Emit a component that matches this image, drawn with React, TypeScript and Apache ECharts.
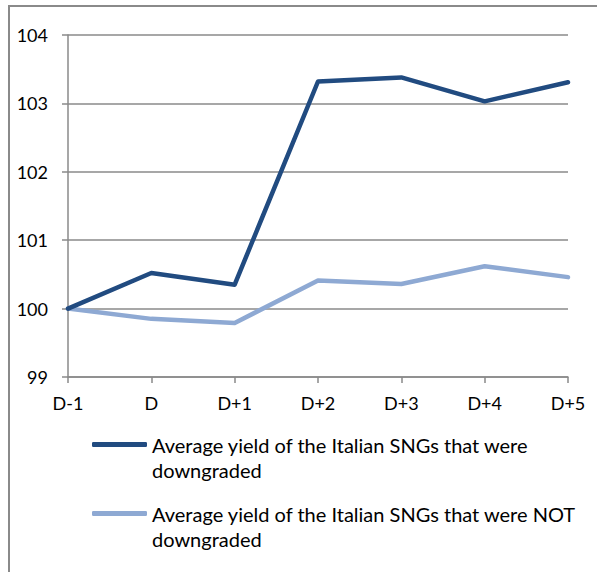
import React, { useEffect, useRef } from "react";
import * as echarts from "echarts";

// Event-day labels and average yields (index, D-1 = 100)
const days = ["D-1", "D", "D+1", "D+2", "D+3", "D+4", "D+5"];
const downgraded = [100, 100.52, 100.35, 103.32, 103.38, 103.03, 103.31];
const notDowngraded = [100, 99.85, 99.79, 100.41, 100.36, 100.62, 100.46];
const seriesNames = [
  "Average yield of the Italian SNGs that were downgraded",
  "Average yield of the Italian SNGs that were NOT downgraded",
];
const yMin = 99;
const yMax = 104;

const DARK = "#214B80";
const LIGHT = "#8EA9D3";
const GRID = "#8A8A8A";
const FONT = "Lato";

export default function App() {
  const ref = useRef<HTMLDivElement>(null);

  useEffect(() => {
    if (!ref.current) return;
    const chart = echarts.init(ref.current, null, { renderer: "svg" });

    // A blank leading line keeps the first text line level with the key line.
    const legendFor = (name: string, color: string, top: number) => ({
      show: true,
      data: [name],
      left: 92,
      top,
      padding: 0,
      orient: "vertical",
      icon: "roundRect",
      itemWidth: 55,
      itemHeight: 5,
      itemStyle: { color, borderWidth: 0 },
      selectedMode: false,
      formatter: (n: string) => " \n" + n.replace(" downgraded", "\ndowngraded"),
      textStyle: {
        fontFamily: FONT,
        fontSize: 20,
        color: "#000",
        lineHeight: 25,
      },
    });

    chart.setOption({
      animation: false,
      backgroundColor: "#fff",
      graphic: [
        {
          type: "rect",
          shape: { x: 9, y: 6, width: 620, height: 620 },
          style: { fill: "none", stroke: GRID, lineWidth: 2 },
          silent: true,
        },
      ],
      grid: { left: 68, top: 35, right: 29, bottom: 195, containLabel: false },
      legend: [
        legendFor(seriesNames[0], DARK, 407),
        legendFor(seriesNames[1], LIGHT, 476),
      ],
      xAxis: {
        type: "category",
        data: days,
        boundaryGap: false,
        axisLine: { show: true, lineStyle: { color: GRID, width: 1.5 } },
        axisTick: { show: true, length: 6, lineStyle: { color: GRID, width: 1.5 } },
        axisLabel: { fontFamily: FONT, fontSize: 18, color: "#000", margin: 17 },
        splitLine: { show: false },
      },
      yAxis: {
        type: "value",
        min: yMin,
        max: yMax,
        interval: 1,
        axisLine: { show: true, lineStyle: { color: GRID, width: 1.5 } },
        axisTick: { show: true, length: 6, lineStyle: { color: GRID, width: 1.5 } },
        axisLabel: { fontFamily: FONT, fontSize: 18, color: "#000", margin: 20 },
        splitLine: { show: true, lineStyle: { color: GRID, width: 1.5 } },
      },
      series: [
        {
          name: seriesNames[0],
          type: "line",
          data: downgraded,
          symbol: "none",
          color: DARK,
          lineStyle: { color: DARK, width: 4.5, cap: "round", join: "round" },
          z: 3,
        },
        {
          name: seriesNames[1],
          type: "line",
          data: notDowngraded,
          symbol: "none",
          color: LIGHT,
          lineStyle: { color: LIGHT, width: 4.5, cap: "round", join: "round" },
          z: 2,
        },
      ],
    });

    return () => chart.dispose();
  }, []);

  return (
    <div
      ref={ref}
      style={{ position: "fixed", left: 0, top: 0, width: 597, height: 572 }}
    />
  );
}
